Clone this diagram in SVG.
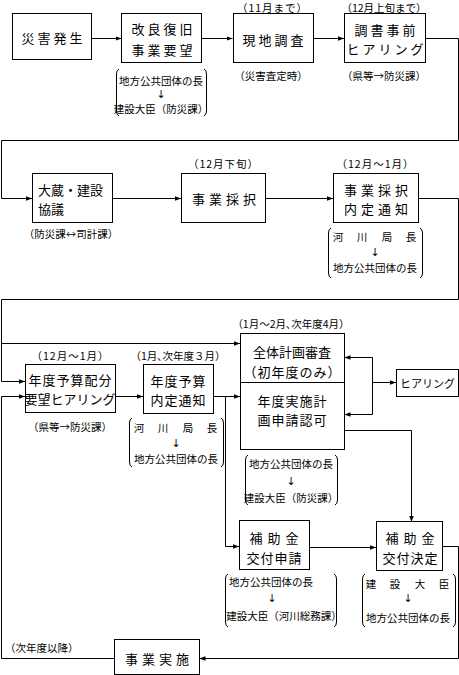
<svg xmlns="http://www.w3.org/2000/svg" width="459" height="675" viewBox="0 0 459 675">
<defs>
<marker id="ah" viewBox="0 0 8 8" refX="8" refY="4" markerWidth="6" markerHeight="6" markerUnits="userSpaceOnUse" orient="auto">
<path d="M0,1 L8,4 L0,7 Z" fill="#000"/>
</marker>
<style>
.box{fill:#fff;stroke:#000;stroke-width:1}
.ln{fill:none;stroke:#000;stroke-width:1}
.ar{fill:none;stroke:#000;stroke-width:1;marker-end:url(#ah)}
.br{fill:none;stroke:#000;stroke-width:1}
text{font-family:"Noto Sans CJK JP","Noto Sans CJK SC",sans-serif;fill:#000}
.t{font-size:13px;text-anchor:middle;dominant-baseline:central}
.s{font-size:10.5px;text-anchor:middle;dominant-baseline:central}
.l{font-size:10.5px;text-anchor:middle;dominant-baseline:central}
.d{font-family:"DejaVu Sans",sans-serif;font-size:11px;text-anchor:middle;dominant-baseline:central;fill:#000}
</style>
</defs>
<rect width="459" height="675" fill="#fff"/>

<g id="connectors">
<path class="ar" d="M91.5,38.5 H121.5"/>
<path class="ar" d="M201.5,38.5 H232.5"/>
<path class="ar" d="M313.5,38.5 H344"/>
<path class="ar" d="M425.5,38.5 H458.5 V140.5 H1.5 V198.5 H32"/>
<path class="ar" d="M112.5,198.5 H181"/>
<path class="ar" d="M265.5,198.5 H333"/>
<path class="ar" d="M418.5,198.5 H458.5 V299.5 H1.5 V381.5 H25"/>
<path class="ar" d="M1.5,343.5 H240"/>
<path class="ar" d="M115.5,396.5 H143"/>
<path class="ar" d="M213.5,396.5 H240"/>
<path class="ar" d="M225.5,396.5 V546.5 H239"/>
<path class="ar" d="M372.5,382.5 H396"/>
<path class="ln" d="M372.5,357.5 V414.5"/>
<path class="ar" d="M372.5,357.5 H344.5"/>
<path class="ar" d="M372.5,414.5 H344.5"/>
<path class="ar" d="M344.5,430.5 H411.5 V522"/>
<path class="ar" d="M309.5,547.5 H376"/>
<path class="ar" d="M442.5,546.5 H458.5 V658.5 H199.5"/>
<path class="ar" d="M114.5,658.5 H1.5 V396.5 H25"/>
</g>

<g id="n1"><rect class="box" x="12.5" y="13.5" width="79" height="46"/>
<text class="t" x="53.5" y="37" letter-spacing="3">災害発生</text></g>

<g id="n2"><rect class="box" x="121.5" y="13.5" width="80" height="49"/>
<text class="t" x="163.5" y="28" letter-spacing="3">改良復旧</text>
<text class="t" x="163.5" y="49" letter-spacing="3">事業要望</text>
<path class="br" d="M119,69 Q116.5,70 116.5,74 V111 Q116.5,115 119,116"/>
<path class="br" d="M204,69 Q206.5,70 206.5,74 V111 Q206.5,115 204,116"/>
<text class="s" x="161" y="80">地方公共団体の長</text>
<text class="d" x="161" y="94">↓</text>
<text class="s" x="161" y="108">建設大臣（防災課）</text></g>

<g id="n3"><text class="l" x="272.5" y="7" letter-spacing="1">（11月まで）</text>
<rect class="box" x="233.5" y="13.5" width="80" height="49"/>
<text class="t" x="274.5" y="39" letter-spacing="3">現地調査</text>
<text class="l" x="271" y="75">（災害査定時）</text></g>

<g id="n4"><text class="l" x="384" y="7">（12月上旬まで）</text>
<rect class="box" x="344.5" y="13.5" width="81" height="49"/>
<text class="t" x="386.5" y="29" letter-spacing="3">調書事前</text>
<text class="t" x="386.5" y="48" letter-spacing="3">ヒアリング</text>
<text class="l" x="384" y="75">（県等→防災課）</text></g>

<g id="n5"><rect class="box" x="32.5" y="173.5" width="80" height="49"/>
<text class="t" x="38" y="189" style="text-anchor:start">大蔵・建設</text>
<text class="t" x="38" y="208" style="text-anchor:start">協議</text>
<text class="l" x="71" y="233">（防災課↔司計課）</text></g>

<g id="n6"><text class="l" x="223.5" y="163" letter-spacing="1">（12月下旬）</text>
<rect class="box" x="181.5" y="173.5" width="84" height="49"/>
<text class="t" x="226" y="198" letter-spacing="4">事業採択</text></g>

<g id="n7"><text class="l" x="375.5" y="163" letter-spacing="1">（12月～1月）</text>
<rect class="box" x="333.5" y="173.5" width="85" height="49"/>
<text class="t" x="378" y="189" letter-spacing="4">事業採択</text>
<text class="t" x="378" y="208" letter-spacing="4">内定通知</text>
<path class="br" d="M331,228 Q328.5,229 328.5,233 V273 Q328.5,277 331,278"/>
<path class="br" d="M420,228 Q422.5,229 422.5,233 V273 Q422.5,277 420,278"/>
<text class="s" x="338 362 387 411" y="236">河川局長</text>
<text class="d" x="375" y="252">↓</text>
<text class="s" x="375" y="267">地方公共団体の長</text></g>

<g id="n8"><text class="l" x="70.5" y="355" letter-spacing="1">（12月～1月）</text>
<rect class="box" x="25.5" y="364.5" width="90" height="48"/>
<text class="t" x="70.5" y="379" letter-spacing="1">年度予算配分</text>
<text class="t" x="70" y="398">要望ヒアリング</text>
<text class="l" x="70" y="426">（県等→防災課）</text></g>

<g id="n9"><text class="l" x="178" y="355">（1月､次年度３月）</text>
<rect class="box" x="143.5" y="364.5" width="70" height="49"/>
<text class="t" x="178.5" y="380" letter-spacing="1">年度予算</text>
<text class="t" x="178.5" y="399" letter-spacing="1">内定通知</text>
<path class="br" d="M132,418 Q129.5,419 129.5,423 V462 Q129.5,466 132,467"/>
<path class="br" d="M221,418 Q223.5,419 223.5,423 V462 Q223.5,466 221,467"/>
<text class="s" x="139 163 188 212" y="427">河川局長</text>
<text class="d" x="176" y="443">↓</text>
<text class="s" x="176" y="458">地方公共団体の長</text></g>

<g id="n10"><text class="l" x="291" y="323">（1月～2月､次年度4月）</text>
<rect class="box" x="240.5" y="333.5" width="104" height="116"/>
<path class="ln" d="M240.5,382.5 H344.5"/>
<text class="t" x="292" y="351">全体計画審査</text>
<text class="t" x="292.5" y="371" letter-spacing="1">（初年度のみ）</text>
<text class="t" x="292.5" y="400" letter-spacing="1">年度実施計</text>
<text class="t" x="292.5" y="419" letter-spacing="1">画申請認可</text>
<path class="br" d="M248,455 Q245.5,456 245.5,460 V500 Q245.5,504 248,505"/>
<path class="br" d="M335,455 Q337.5,456 337.5,460 V500 Q337.5,504 335,505"/>
<text class="s" x="291" y="463">地方公共団体の長</text>
<text class="d" x="291" y="481">↓</text>
<text class="s" x="291" y="497">建設大臣（防災課）</text></g>

<g id="n11"><rect class="box" x="396.5" y="369.5" width="62" height="27"/>
<text class="t" x="427.5" y="383" style="font-size:11px">ヒアリング</text></g>

<g id="n12"><rect class="box" x="239.5" y="520.5" width="70" height="49"/>
<text class="t" x="276.5" y="537" letter-spacing="5">補助金</text>
<text class="t" x="274.5" y="557" letter-spacing="1">交付申請</text>
<path class="br" d="M228,574 Q225.5,575 225.5,579 V622 Q225.5,626 228,627"/>
<path class="br" d="M334,574 Q336.5,575 336.5,579 V622 Q336.5,626 334,627"/>
<text class="s" x="271" y="581">地方公共団体の長</text>
<text class="d" x="272" y="598">↓</text>
<text class="s" x="284" y="615">建設大臣（河川総務課）</text></g>

<g id="n13"><rect class="box" x="376.5" y="521.5" width="66" height="49"/>
<text class="t" x="412.5" y="537" letter-spacing="5">補助金</text>
<text class="t" x="410.5" y="557" letter-spacing="1">交付決定</text>
<path class="br" d="M365,574 Q362.5,575 362.5,579 V622 Q362.5,626 365,627"/>
<path class="br" d="M453,574 Q455.5,575 455.5,579 V622 Q455.5,626 453,627"/>
<text class="s" x="371 395 420 444" y="583">建設大臣</text>
<text class="d" x="408" y="598">↓</text>
<text class="s" x="408" y="617">地方公共団体の長</text></g>

<g id="n14"><text class="l" x="5" y="647" style="text-anchor:start">（次年度以降）</text>
<rect class="box" x="114.5" y="639.5" width="85" height="35"/>
<text class="t" x="159" y="658" letter-spacing="4">事業実施</text></g>
</svg>
